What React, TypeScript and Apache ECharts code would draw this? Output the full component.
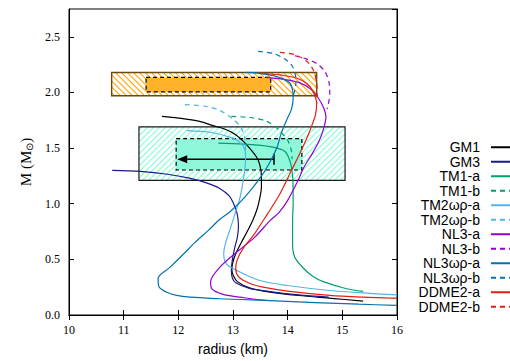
import React, { useEffect, useRef } from 'react';
import * as echarts from 'echarts';

// ---- axis ticks ----
const xTicks = [10, 11, 12, 13, 14, 15, 16];
const yTicks = [0, 0.5, 1, 1.5, 2, 2.5];
const yMax = 2.75;

// ---- legend / series names ----
const names = ['GM1', 'GM3', 'TM1-a', 'TM1-b', 'TM2ωρ-a', 'TM2ωρ-b', 'NL3-a', 'NL3-b', 'NL3ωρ-a', 'NL3ωρ-b', 'DDME2-a', 'DDME2-b'];

// ---- mass-radius curves [radius km, mass Msun] ----
const gm1 = [[11.70, 1.785], [12.0, 1.77], [12.39, 1.74], [12.65, 1.70], [12.88, 1.665], [13.05, 1.62], [13.19, 1.56], [13.32, 1.49], [13.43, 1.42], [13.49, 1.35], [13.52, 1.25], [13.52, 1.15], [13.49, 1.05], [13.44, 0.95], [13.36, 0.85], [13.26, 0.75], [13.15, 0.65], [13.05, 0.55], [12.99, 0.46], [12.98, 0.40], [13.01, 0.35], [13.08, 0.30], [13.3, 0.245], [13.68, 0.205], [14.2, 0.175], [14.8, 0.15], [15.38, 0.125]];
const gm3 = [[10.79, 1.30], [11.3, 1.29], [11.8, 1.265], [12.2, 1.23], [12.5, 1.19], [12.75, 1.14], [12.93, 1.07], [13.03, 0.98], [13.08, 0.90], [13.10, 0.80], [13.08, 0.70], [13.03, 0.60], [12.99, 0.50], [12.97, 0.40], [12.99, 0.33], [13.05, 0.29], [13.3, 0.24], [13.68, 0.21], [14.2, 0.18], [14.75, 0.16]];
const tm1a = [[12.73, 1.545], [13.2, 1.535], [13.68, 1.513], [13.95, 1.47], [14.05, 1.37], [14.09, 1.25], [14.10, 1.12], [14.10, 1.0], [14.09, 0.85], [14.09, 0.64], [14.13, 0.52], [14.29, 0.42], [14.45, 0.35], [14.65, 0.30], [15.08, 0.236], [15.38, 0.212]];
const tm1b = [[12.97, 1.785], [13.3, 1.775], [13.62, 1.74], [13.82, 1.67], [14.0, 1.57], [14.07, 1.47], [14.08, 1.40]];
const tm2a = [[12.16, 1.657], [12.6, 1.64], [13.0, 1.59], [13.15, 1.54], [13.22, 1.48], [13.23, 1.40], [13.20, 1.25], [13.13, 1.06], [13.03, 0.90], [12.94, 0.76], [12.86, 0.64], [12.83, 0.55], [12.88, 0.46], [13.07, 0.40], [13.49, 0.31], [14.0, 0.265], [14.77, 0.22], [15.5, 0.195], [16.0, 0.18]];
const tm2b = [[12.12, 1.89], [12.5, 1.875], [12.75, 1.84], [13.0, 1.76], [13.15, 1.68], [13.22, 1.58], [13.23, 1.45]];
const nl3a = [[13.6, 2.135], [13.9, 2.12], [14.2, 2.09], [14.42, 2.03], [14.56, 1.95], [14.66, 1.86], [14.70, 1.78], [14.66, 1.68], [14.58, 1.57], [14.45, 1.45], [14.3, 1.33], [14.19, 1.21], [14.0, 1.03], [13.84, 0.92], [13.68, 0.85], [13.4, 0.70], [13.07, 0.566], [12.76, 0.43], [12.59, 0.30], [12.61, 0.236], [12.82, 0.185], [13.2, 0.155], [13.62, 0.13]];
const nl3b = [[14.13, 2.33], [14.35, 2.30], [14.53, 2.26], [14.68, 2.19], [14.76, 2.08], [14.77, 1.98], [14.72, 1.85]];
const nl3wra = [[13.25, 2.18], [13.5, 2.17], [13.75, 2.15], [13.92, 2.12], [14.04, 2.085], [14.09, 2.02], [14.10, 1.95], [14.07, 1.85], [13.98, 1.75], [13.88, 1.63], [13.8, 1.5], [13.65, 1.35], [13.45, 1.2], [13.2, 1.05], [12.95, 0.93], [12.76, 0.86], [12.55, 0.76], [12.3, 0.65], [12.1, 0.55], [11.85, 0.43], [11.63, 0.33], [11.65, 0.25], [11.97, 0.176], [12.76, 0.146], [13.68, 0.13], [14.5, 0.112], [15.3, 0.097], [16.0, 0.086]];
const nl3wrb = [[13.46, 2.37], [13.74, 2.35], [13.95, 2.30], [14.08, 2.24], [14.14, 2.16], [14.15, 2.08], [14.11, 1.98]];
const ddme2a = [[13.5, 2.175], [13.9, 2.155], [14.16, 2.13], [14.35, 2.08], [14.46, 2.01], [14.53, 1.90], [14.51, 1.80], [14.44, 1.70], [14.36, 1.60], [14.22, 1.45], [14.07, 1.30], [13.85, 1.08], [13.62, 0.90], [13.38, 0.72], [13.2, 0.61], [13.08, 0.50], [13.05, 0.42], [13.1, 0.345], [13.3, 0.285], [13.55, 0.25], [14.0, 0.215], [14.77, 0.176], [15.4, 0.16], [16.0, 0.151]];
const ddme2b = [[13.86, 2.36], [14.13, 2.34], [14.35, 2.28], [14.47, 2.20], [14.53, 2.09], [14.54, 1.98], [14.53, 1.90]];

// ---- observational constraint boxes [rMin, rMax, mMin, mMax] ----
const orangeOuter = [10.78, 14.53, 1.97, 2.18];
const orangeInner = [11.41, 13.69, 2.005, 2.135];
const cyanOuter = [11.28, 15.05, 1.21, 1.69];
const cyanInner = [11.96, 14.26, 1.303, 1.585];
// arrow [rFrom, rTo, mass, capHalfHeight]
const arrowData = [13.75, 11.98, 1.40, 0.05];

const curveData = [gm1, gm3, tm1a, tm1b, tm2a, tm2b, nl3a, nl3b, nl3wra, nl3wrb, ddme2a, ddme2b];
const curveColors = ['#000000', '#1a1a8c', '#009e73', '#009e73', '#56b4e9', '#56b4e9', '#9400d3', '#9400d3', '#0072b2', '#0072b2', '#e51e10', '#e51e10'];
const curveDashed = [false, false, false, true, false, true, false, true, false, true, false, true];

function hatchSegments(x0: number, y0: number, w: number, h: number, step: number, dir: string) {
  const segs: number[][] = [];
  if (dir === '/') {
    for (let c = x0 + y0 + step / 2; c < x0 + w + y0 + h; c += step) {
      const xa = Math.max(x0, c - (y0 + h));
      const xb = Math.min(x0 + w, c - y0);
      if (xb > xa) segs.push([xa, c - xa, xb, c - xb]);
    }
  } else {
    for (let c = x0 - (y0 + h) + step / 2; c < x0 + w - y0; c += step) {
      const xa = Math.max(x0, c + y0);
      const xb = Math.min(x0 + w, c + y0 + h);
      if (xb > xa) segs.push([xa, xa - c, xb, xb - c]);
    }
  }
  return segs;
}

function boxSeries(box: number[], opts: any) {
  return {
    type: 'custom',
    coordinateSystem: 'cartesian2d',
    silent: true,
    z: 1,
    data: [box],
    encode: { x: [0, 1], y: [2, 3] },
    renderItem: (params: any, api: any) => {
      const p0 = api.coord([api.value(0), api.value(3)]);
      const p1 = api.coord([api.value(1), api.value(2)]);
      const x0 = p0[0], y0 = p0[1], w = p1[0] - p0[0], h = p1[1] - p0[1];
      const children: any[] = [];
      if (opts.fill) {
        children.push({ type: 'rect', shape: { x: x0, y: y0, width: w, height: h }, style: { fill: opts.fill, stroke: null } });
      }
      if (opts.hatch) {
        for (const s of hatchSegments(x0, y0, w, h, opts.step, opts.hatch)) {
          children.push({ type: 'line', shape: { x1: s[0], y1: s[1], x2: s[2], y2: s[3] }, style: { stroke: opts.hatchColor, lineWidth: 1.1 } });
        }
      }
      children.push({ type: 'rect', shape: { x: x0, y: y0, width: w, height: h }, style: { fill: null, stroke: opts.stroke, lineWidth: opts.lw, lineDash: opts.dash || null } });
      return { type: 'group', children };
    },
  };
}

const arrowSeries = {
  type: 'custom',
  coordinateSystem: 'cartesian2d',
  silent: true,
  z: 2,
  data: [arrowData],
  encode: { x: [0, 1], y: [2] },
  renderItem: (params: any, api: any) => {
    const from = api.coord([api.value(0), api.value(2)]);
    const to = api.coord([api.value(1), api.value(2)]);
    const capTop = api.coord([api.value(0), api.value(2) + api.value(3)]);
    const capBot = api.coord([api.value(0), api.value(2) - api.value(3)]);
    const head = 10, half = 4;
    return {
      type: 'group',
      children: [
        { type: 'line', shape: { x1: from[0], y1: from[1], x2: to[0] + head, y2: to[1] }, style: { stroke: '#000', lineWidth: 1.5 } },
        { type: 'line', shape: { x1: capTop[0], y1: capTop[1], x2: capBot[0], y2: capBot[1] }, style: { stroke: '#000', lineWidth: 1.5 } },
        { type: 'polygon', shape: { points: [[to[0], to[1]], [to[0] + head, to[1] - half], [to[0] + head, to[1] + half]] }, style: { fill: '#000' } },
      ],
    };
  },
};

export default function App() {
  const ref = useRef<HTMLDivElement>(null);
  useEffect(() => {
    if (!ref.current) return;
    const chart = echarts.init(ref.current, undefined, { renderer: 'svg' });
    const lineSeries = names.map((n, i) => ({
      name: n,
      type: 'line',
      data: curveData[i],
      symbol: 'none',
      smooth: 0.3,
      z: 3,
      itemStyle: { color: 'rgba(0,0,0,0)' },
      lineStyle: { color: curveColors[i], width: 1.2, type: curveDashed[i] ? [5, 4] : 'solid' },
    }));
    const serif = 'Liberation Serif, Times New Roman, serif';
    const sans = 'Liberation Sans, Arial, sans-serif';
    const option: any = {
      animation: false,
      backgroundColor: '#fff',
      grid: { left: 69, right: 113, top: 9, bottom: 46, show: true, borderColor: '#000', borderWidth: 1, backgroundColor: 'transparent' },
      legend: {
        orient: 'vertical',
        right: -8,
        top: 140,
        padding: 0,
        align: 'right',
        itemWidth: 26,
        itemHeight: 10,
        itemGap: 0,
        selectedMode: false,
        data: names,
        itemStyle: { opacity: 0 },
        textStyle: { fontFamily: sans, fontSize: 14, lineHeight: 14.5, color: '#000', padding: [0, 6, 0, 0] },
      },
      xAxis: [
        {
          type: 'value', min: xTicks[0], max: xTicks[xTicks.length - 1], interval: 1, position: 'bottom',
          axisLine: { show: true, lineStyle: { color: '#000', width: 1 } },
          axisTick: { show: true, inside: true, length: 5, lineStyle: { color: '#000' } },
          axisLabel: { color: '#000', fontFamily: serif, fontSize: 12, margin: 9 },
          splitLine: { show: false },
          name: 'radius (km)', nameLocation: 'middle', nameGap: 27,
          nameTextStyle: { fontFamily: sans, fontSize: 14, color: '#000' },
        },
        {
          type: 'value', min: xTicks[0], max: xTicks[xTicks.length - 1], interval: 1, position: 'top',
          axisLine: { show: true, lineStyle: { color: '#000', width: 1 } },
          axisTick: { show: true, inside: true, length: 5, lineStyle: { color: '#000' } },
          axisLabel: { show: false },
          splitLine: { show: false },
        },
      ],
      yAxis: [
        {
          type: 'value', min: yTicks[0], max: yMax, interval: 0.5, position: 'left',
          axisLine: { show: true, lineStyle: { color: '#000', width: 1 } },
          axisTick: { show: true, inside: true, length: 5, lineStyle: { color: '#000' } },
          axisLabel: {
            color: '#000', fontFamily: serif, fontSize: 12, margin: 9, showMaxLabel: false,
            formatter: (v: number) => (yTicks.some((t) => Math.abs(t - v) < 1e-6) ? v.toFixed(1) : ''),
          },
          splitLine: { show: false },
          name: 'M (M{s|⊙})', nameLocation: 'middle', nameGap: 35,
          nameTextStyle: { fontFamily: serif, fontSize: 15, color: '#000', rich: { s: { fontFamily: serif, fontSize: 10, color: '#000', padding: [6, 0, 0, 0] } } },
        },
        {
          type: 'value', min: yTicks[0], max: yMax, interval: 0.5, position: 'right',
          axisLine: { show: true, lineStyle: { color: '#000', width: 1 } },
          axisTick: { show: true, inside: true, length: 5, lineStyle: { color: '#000' } },
          axisLabel: { show: false },
          splitLine: { show: false },
        },
      ],
      series: [
        boxSeries(orangeOuter, { hatch: '\\', hatchColor: '#ffa500', step: 6, stroke: '#6b4a10', lw: 1.4 }),
        boxSeries(orangeInner, { fill: '#ffb22a', stroke: '#000', lw: 1.2, dash: [4, 3] }),
        boxSeries(cyanOuter, { hatch: '/', hatchColor: '#7fffd4', step: 6, stroke: '#1a1a1a', lw: 1.2 }),
        boxSeries(cyanInner, { fill: '#8ff7da', stroke: '#000', lw: 1.2, dash: [4, 3] }),
        arrowSeries,
        ...lineSeries,
      ],
    };
    chart.setOption(option);
    return () => chart.dispose();
  }, []);
  return <div ref={ref} style={{ position: 'absolute', left: 0, top: 0, width: 510, height: 361, background: '#fff' }} />;
}
